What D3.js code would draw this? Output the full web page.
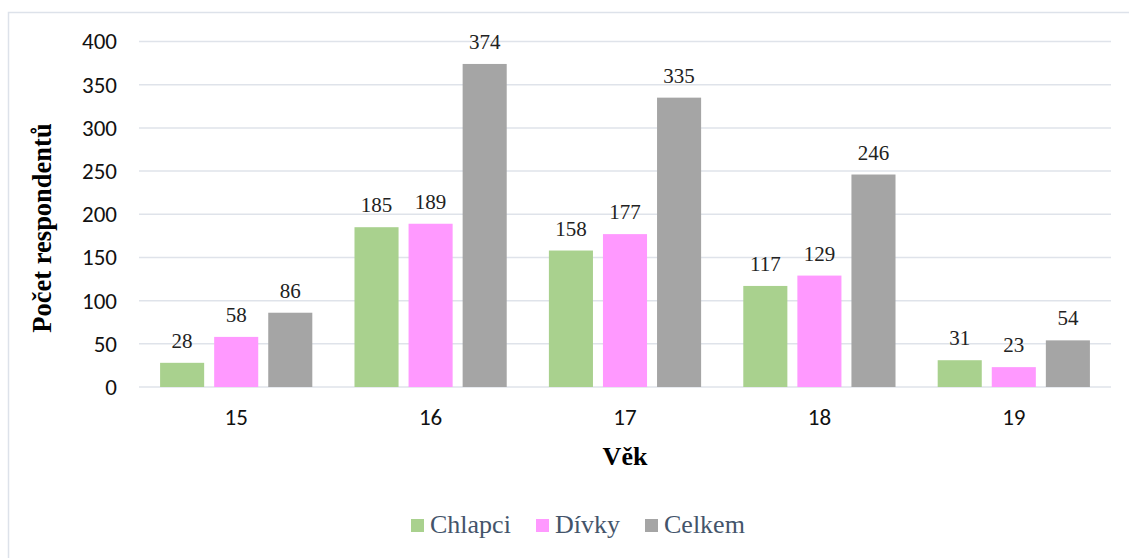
<!DOCTYPE html>
<html>
<head>
<meta charset="utf-8">
<script src="https://cdn.jsdelivr.net/npm/d3@7"></script>
<style>
  body { margin: 0; background: #fff; }
  svg { display: block; }
  .serif { font-family: "Liberation Serif", "Times New Roman", serif; }
  .sans { font-family: Carlito, Calibri, "Open Sans", sans-serif; }
</style>
</head>
<body>
<svg id="chart" width="1129" height="558"></svg>
<script>
// data
var ages = ['15', '16', '17', '18', '19'];
var seriesNames = ['Chlapci', 'Dívky', 'Celkem'];
var chlapci = [28, 185, 158, 117, 31];
var divky = [58, 189, 177, 129, 23];
var celkem = [86, 374, 335, 246, 54];
var yTicks = [0, 50, 100, 150, 200, 250, 300, 350, 400];
var colors = ['#a9d18e', '#ff99ff', '#a5a5a5'];

var svg = d3.select('#chart');
var W = 1129, H = 558;
var m = { left: 139, right: 1111, top: 41.5, bottom: 387 };

// chart frame (cut off right & bottom like the source)
svg.append('rect')
    .attr('x', 8.5).attr('y', 12.5)
    .attr('width', W + 20).attr('height', H + 20)
    .attr('fill', 'none')
    .attr('stroke', '#dde2ea')
    .attr('stroke-width', 1.5);

var x = d3.scaleBand().domain(ages).range([m.left, m.right]);
var x1 = d3.scaleBand().domain(seriesNames).range([0, x.bandwidth()])
    .paddingInner(0.185).paddingOuter(0.39);
var y = d3.scaleLinear().domain([0, 400]).range([m.bottom, m.top]);

// gridlines
svg.append('g').selectAll('line')
    .data(yTicks)
    .enter().append('line')
    .attr('x1', m.left).attr('x2', m.right)
    .attr('y1', function (d) { return y(d); })
    .attr('y2', function (d) { return y(d); })
    .attr('stroke', '#dfe3ea')
    .attr('stroke-width', 1.5);

// y axis labels
var yAxis = d3.axisLeft(y).tickValues(yTicks).tickSize(0).tickPadding(0);
var gy = svg.append('g').attr('transform', 'translate(117,0)').call(yAxis);
gy.select('.domain').remove();
gy.attr('font-family', null);
gy.selectAll('text')
    .attr('class', 'sans')
    .attr('font-size', 23)
    .attr('fill', '#111');

// x axis labels
var xAxis = d3.axisBottom(x).tickSize(0).tickPadding(0);
var gx = svg.append('g').attr('transform', 'translate(0,409)').call(xAxis);
gx.select('.domain').remove();
gx.attr('font-family', null);
gx.selectAll('text')
    .attr('class', 'sans')
    .attr('font-size', 23)
    .attr('fill', '#111');

var series = [chlapci, divky, celkem];
var rows = [];
ages.forEach(function (a, i) {
    seriesNames.forEach(function (s, j) {
        rows.push({ age: a, name: s, value: series[j][i], color: colors[j] });
    });
});

var bars = svg.append('g');
bars.selectAll('rect')
    .data(rows)
    .enter().append('rect')
    .attr('x', function (d) { return x(d.age) + x1(d.name); })
    .attr('y', function (d) { return y(d.value); })
    .attr('width', x1.bandwidth())
    .attr('height', function (d) { return y(0) - y(d.value); })
    .attr('fill', function (d) { return d.color; });

// value labels
bars.selectAll('text')
    .data(rows)
    .enter().append('text')
    .attr('class', 'serif')
    .attr('x', function (d) { return x(d.age) + x1(d.name) + x1.bandwidth() / 2; })
    .attr('y', function (d) { return y(d.value) - 15; })
    .attr('text-anchor', 'middle')
    .attr('font-size', 21)
    .attr('fill', '#222')
    .text(function (d) { return d.value; });

// axis titles
svg.append('text')
    .attr('class', 'serif')
    .attr('x', 625).attr('y', 465)
    .attr('text-anchor', 'middle')
    .attr('font-weight', 'bold')
    .attr('font-size', 26)
    .attr('fill', '#000')
    .text('Věk');

svg.append('text')
    .attr('class', 'serif')
    .attr('transform', 'translate(51,228) rotate(-90)')
    .attr('text-anchor', 'middle')
    .attr('font-weight', 'bold')
    .attr('font-size', 26.5)
    .attr('fill', '#000')
    .text('Počet respondentů');

// legend
var legendX = [411, 536, 645];
var lg = svg.append('g');
seriesNames.forEach(function (s, j) {
    lg.append('rect')
        .attr('x', legendX[j]).attr('y', 519)
        .attr('width', 13).attr('height', 13)
        .attr('fill', colors[j]);
    lg.append('text')
        .attr('class', 'serif')
        .attr('x', legendX[j] + 19).attr('y', 533)
        .attr('font-size', 26)
        .attr('fill', '#44546a')
        .text(s);
});
</script>
</body>
</html>
